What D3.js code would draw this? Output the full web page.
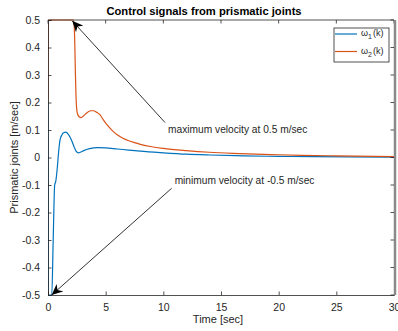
<!DOCTYPE html>
<html>
<head>
<meta charset="utf-8">
<script src="https://cdn.jsdelivr.net/npm/d3@7"></script>
<style>
  html, body { margin: 0; padding: 0; background: #fff; }
  svg { display: block; font-family: "Liberation Sans", Arial, Helvetica, sans-serif; }
</style>
</head>
<body>
<svg id="chart" width="398" height="331"></svg>
<script>
// Control signal of prismatic joint 1 (omega_1)
const t1 = [0, 0.03, 0.33, 0.45, 0.58, 0.68, 0.8, 0.92, 1.04, 1.2, 1.35, 1.55, 1.75, 2.05, 2.3, 2.45, 2.63, 2.85, 3.1, 3.6, 4.3, 5, 6, 7, 8, 10, 12, 14, 17, 20, 23, 26, 30];
const w1 = [0.2, -0.5, -0.5, -0.3, -0.1, -0.085, -0.04, 0.02, 0.063, 0.082, 0.09, 0.092, 0.085, 0.062, 0.035, 0.022, 0.017, 0.02, 0.025, 0.032, 0.036, 0.035, 0.031, 0.027, 0.023, 0.017, 0.012, 0.009, 0.006, 0.004, 0.003, 0.002, 0.001];

// Control signal of prismatic joint 2 (omega_2)
const t2 = [0, 0.03, 2.2, 2.3, 2.38, 2.45, 2.55, 2.7, 2.86, 3.1, 3.4, 3.7, 3.95, 4.2, 4.5, 4.8, 5.2, 5.6, 6.0, 6.5, 7, 7.5, 8, 9, 10, 12, 14, 16, 18, 20, 22, 25, 30];
const w2 = [0.2, 0.5, 0.5, 0.45, 0.3, 0.2, 0.16, 0.148, 0.145, 0.152, 0.164, 0.17, 0.17, 0.165, 0.156, 0.137, 0.115, 0.097, 0.083, 0.07, 0.061, 0.054, 0.048, 0.039, 0.033, 0.025, 0.019, 0.015, 0.012, 0.01, 0.008, 0.006, 0.003];

const xTicks = [0, 5, 10, 15, 20, 25, 30];
const yTicks = [-0.5, -0.4, -0.3, -0.2, -0.1, 0, 0.1, 0.2, 0.3, 0.4, 0.5];
const yTickLabels = ["-0.5", "-0.4", "-0.3", "-0.2", "-0.1", "0", "0.1", "0.2", "0.3", "0.4", "0.5"];

const seriesNames = ["1", "2"];
const colors = ["#0072BD", "#D95319"];

const svg = d3.select("#chart");
const L = 48, R = 394, T = 20, B = 295;
const x = d3.scaleLinear().domain([0, 30]).range([L, R]);
const y = d3.scaleLinear().domain([-0.5, 0.5]).range([B, T]);
const axisColor = "#262626";
const tickLen = 3.5;

// clip path for plot area
svg.append("defs").append("clipPath").attr("id", "clip")
  .append("rect").attr("x", L).attr("y", T - 1).attr("width", R - L).attr("height", B - T + 2);

// arrow marker
svg.select("defs").append("marker")
  .attr("id", "arrow").attr("viewBox", "0 0 10 10")
  .attr("refX", 10).attr("refY", 5)
  .attr("markerWidth", 11).attr("markerHeight", 11)
  .attr("markerUnits", "userSpaceOnUse")
  .attr("orient", "auto")
  .append("path").attr("d", "M0,0.5 L10,5 L0,9.5 L3,5 Z").attr("fill", "#000");

// data lines
const line = d3.line().x(d => x(d[0])).y(d => y(d[1])).curve(d3.curveMonotoneX);
const series = [d3.zip(t1, w1), d3.zip(t2, w2)];
const g = svg.append("g").attr("clip-path", "url(#clip)");
series.forEach((s, i) => {
  g.append("path").datum(s).attr("d", line)
    .attr("fill", "none").attr("stroke", colors[i]).attr("stroke-width", 1.2)
    .attr("stroke-linejoin", "round");
});

// axes (ticks point inward, box on)
const xAxis = d3.axisBottom(x).tickValues(xTicks).tickSize(-tickLen).tickPadding(9).tickFormat(d3.format("d"));
const yAxis = d3.axisLeft(y).tickValues(yTicks).tickSize(-tickLen).tickPadding(8).tickFormat((d, i) => yTickLabels[i]);

const gx = svg.append("g").attr("transform", `translate(0,${B})`).call(xAxis);
const gy = svg.append("g").attr("transform", `translate(${L},0)`).call(yAxis);
[gx, gy].forEach(ax => {
  ax.select(".domain").attr("stroke", axisColor).attr("stroke-width", 0.8);
  ax.selectAll(".tick line").attr("stroke", axisColor).attr("stroke-width", 0.8);
  ax.selectAll(".tick text").attr("fill", axisColor).attr("font-size", 10.5)
    .attr("font-family", "Liberation Sans, Arial, sans-serif");
});

// top and right box edges with inward ticks
const gTop = svg.append("g");
gTop.append("line").attr("x1", L).attr("x2", R).attr("y1", T).attr("y2", T).attr("stroke", axisColor).attr("stroke-width", 0.8);
gTop.selectAll("line.tt").data(xTicks).join("line").attr("class", "tt")
  .attr("x1", d => x(d)).attr("x2", d => x(d)).attr("y1", T).attr("y2", T + tickLen)
  .attr("stroke", axisColor).attr("stroke-width", 0.8);
gTop.append("line").attr("x1", R + 1).attr("x2", R + 1).attr("y1", T).attr("y2", B).attr("stroke", "#8a8a8a").attr("stroke-width", 2.5);
gTop.selectAll("line.rt").data(yTicks).join("line").attr("class", "rt")
  .attr("x1", R).attr("x2", R - tickLen).attr("y1", d => y(d)).attr("y2", d => y(d))
  .attr("stroke", axisColor).attr("stroke-width", 0.8);

// title and axis labels
svg.append("text").attr("x", 204).attr("y", 14.5).attr("text-anchor", "middle")
  .attr("font-size", 11.2).attr("font-weight", "bold").attr("fill", "#000")
  .text("Control signals from prismatic joints");
svg.append("text").attr("x", 218).attr("y", 323).attr("text-anchor", "middle")
  .attr("font-size", 11).attr("fill", axisColor).text("Time [sec]");
svg.append("text").attr("transform", `translate(18,${(T + B) / 2}) rotate(-90)`)
  .attr("text-anchor", "middle").attr("font-size", 11).attr("fill", axisColor)
  .text("Prismatic joints [m/sec]");

// annotations
const notes = [
  { from: [10.15, 0.127], to: [2.1, 0.497], text: "maximum velocity at 0.5 m/sec", dx: 3, dy: 10 },
  { from: [10.72, -0.112], to: [0.32, -0.5], text: "minimum velocity at -0.5 m/sec", dx: 3, dy: -4 }
];
notes.forEach(n => {
  svg.append("line")
    .attr("x1", x(n.from[0])).attr("y1", y(n.from[1]))
    .attr("x2", x(n.to[0])).attr("y2", y(n.to[1]))
    .attr("stroke", "#000").attr("stroke-width", 0.8)
    .attr("marker-end", "url(#arrow)");
  svg.append("text").attr("x", x(n.from[0]) + n.dx).attr("y", y(n.from[1]) + n.dy)
    .attr("font-size", 10.2).attr("fill", axisColor).text(n.text);
});

// legend
const lg = svg.append("g").attr("transform", "translate(334,28)");
lg.append("rect").attr("width", 55).attr("height", 34).attr("fill", "#fff")
  .attr("stroke", axisColor).attr("stroke-width", 0.8);
seriesNames.forEach((nm, i) => {
  const yy = 6 + i * 17.5;
  lg.append("line").attr("x1", 1).attr("x2", 23).attr("y1", yy).attr("y2", yy)
    .attr("stroke", colors[i]).attr("stroke-width", 1.2);
  const tx = lg.append("text").attr("x", 27).attr("y", yy + 2).attr("font-size", 9).attr("fill", axisColor);
  tx.append("tspan").text("ω");
  tx.append("tspan").attr("font-size", 7).attr("dy", 3).text(nm);
  tx.append("tspan").attr("dy", -3).attr("dx", 1).text("(k)");
});
</script>
</body>
</html>
